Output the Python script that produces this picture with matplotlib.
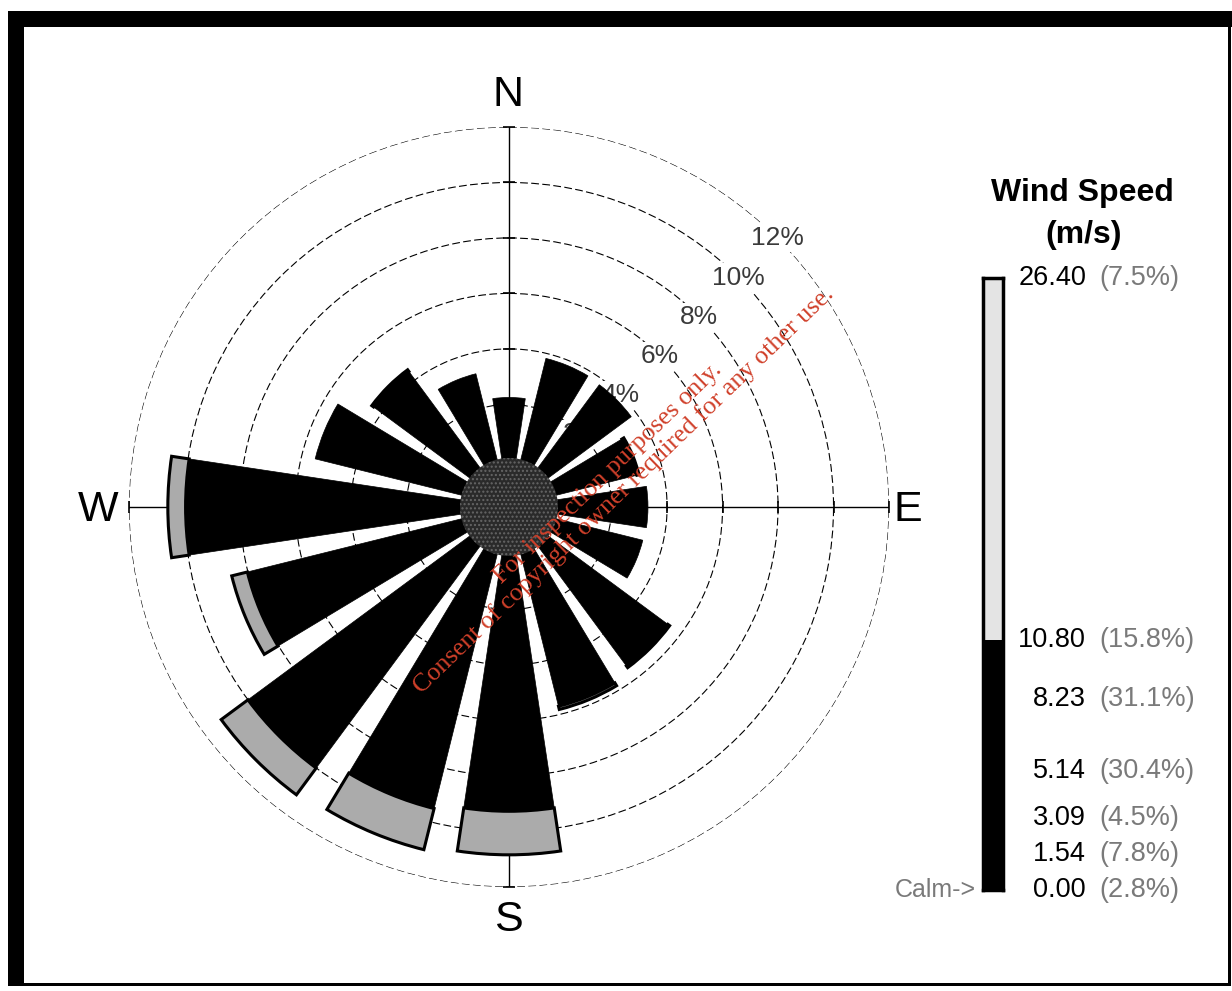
import numpy as np
import matplotlib
matplotlib.use("Agg")
import matplotlib.pyplot as plt
from matplotlib.patches import Circle, Rectangle
from matplotlib.transforms import blended_transform_factory

plt.rcParams['font.family'] = ['Liberation Sans', 'DejaVu Sans']

# wind rose data (% of time per direction)
directions = ['N', 'NNE', 'NE', 'ENE', 'E', 'ESE', 'SE', 'SSE',
              'S', 'SSW', 'SW', 'WSW', 'W', 'WNW', 'NW', 'NNW']
below_10_8 = [2.25, 3.82, 3.78, 3.05, 3.31, 3.27, 5.42, 5.70,
              9.27, 9.50, 10.0, 8.02, 9.96, 5.50, 4.37, 3.25]
above_10_8 = [0.0, 0.0, 0.0, 0.08, 0.0, 0.0, 0.08, 0.12,
              1.57, 1.53, 1.20, 0.58, 0.64, 0.0, 0.08, 0.0]
ring_levels = [2, 4, 6, 8, 10, 12]
ring_labels = ['2%', '4%', '6%', '8%', '10%', '12%']

# legend / colour scale
speed_bounds = [0.00, 1.54, 3.09, 5.14, 8.23, 10.80, 26.40]
bound_pcts = ['(2.8%)', '(7.8%)', '(4.5%)', '(30.4%)', '(31.1%)', '(15.8%)', '(7.5%)']
class_colors = ['black', 'black', 'black', 'black', 'black', '#e4e4e4']

W, H = 1232, 991
fig = plt.figure(figsize=(W / 100, H / 100), dpi=100)
fig.patch.set_facecolor('white')


def fx(x):
    return x / W


def fy(y):
    return 1 - y / H


# frame around the picture (thick top/left, thin right/bottom)
for x0, y0, x1, y1 in [(8, 11, 24, 986), (8, 11, 1232, 27),
                       (1228, 11, 1231, 986), (8, 983, 1231, 986)]:
    fig.add_artist(Rectangle((fx(x0), fy(y1)), fx(x1) - fx(x0), fy(y0) - fy(y1),
                             transform=fig.transFigure, color='black', lw=0))

# polar axes
cx, cy, R = 509, 507, 380
ax = fig.add_axes([fx(cx - R), fy(cy + R), 2 * R / W, 2 * R / H], projection='polar')
ax.set_theta_zero_location('N')
ax.set_theta_direction(-1)
ax.set_ylim(0, 12)
ax.set_rorigin(-1.7)
ax.set_axisbelow(True)
ax.spines['polar'].set_visible(False)
ax.set_facecolor('none')

ax.set_yticks(ring_levels)
ax.set_yticklabels([])
ax.set_xticks(np.deg2rad([0, 90, 180, 270]))
ax.set_xticklabels([])
ax.tick_params(length=0)
ax.yaxis.grid(True, color='black', linestyle=(0, (7, 3)), linewidth=0.8)
ax.xaxis.grid(True, color='black', linestyle='-', linewidth=1.0)

# small ticks where the rings cross the compass axes
for ang in [0, 180]:
    ax.plot(np.full(len(ring_levels), np.deg2rad(ang)), ring_levels, ls='none',
            marker='_', ms=9, mew=1.2, color='black', zorder=0.6, clip_on=False)
for ang in [90, 270]:
    ax.plot(np.full(len(ring_levels), np.deg2rad(ang)), ring_levels, ls='none',
            marker='|', ms=9, mew=1.2, color='black', zorder=0.6, clip_on=False)

# ring labels along NE, beneath the petals
for lev, lab in zip(ring_levels, ring_labels):
    ax.text(np.deg2rad(45), lev, lab, ha='center', va='center', fontsize=19,
            color='#3a3a3a', zorder=0.8,
            bbox=dict(facecolor='white', edgecolor='none', pad=1.5))

theta = np.deg2rad(np.arange(len(directions)) * 22.5)
width = np.deg2rad(22.5) * 0.76
ax.bar(theta, below_10_8, width=width, bottom=0, color='black',
       edgecolor='black', linewidth=0.5, zorder=2)
grey = np.array(above_10_8)
mask = grey > 0
ax.bar(theta[mask], grey[mask], width=width, bottom=np.array(below_10_8)[mask],
       color='#ababab', edgecolor='black', linewidth=2.2, zorder=3)

# calm disc in the middle
ax.add_artist(Circle((0.5, 0.5), 49 / (2 * R), transform=ax.transAxes,
                     facecolor='#2a2a2a', edgecolor='#666666', hatch='....',
                     linewidth=0, zorder=4, clip_on=False))

# compass letters
for lab, x, y in [('N', 508, 95), ('S', 508, 920), ('W', 98, 510), ('E', 908, 510)]:
    fig.text(fx(x), fy(y), lab, ha='center', va='center', fontsize=31, color='black')

# colour scale
cax = fig.add_axes([fx(983), fy(890), 20 / W, 612 / H])
cax.bar(0.5, np.diff(speed_bounds), bottom=speed_bounds[:-1], width=1,
        color=class_colors, linewidth=0)
cax.set_xlim(0, 1)
cax.set_ylim(speed_bounds[0], speed_bounds[-1])
cax.set_xticks([])
cax.set_yticks([])
for s in cax.spines.values():
    s.set_linewidth(2.5)

tr = blended_transform_factory(fig.transFigure, cax.transData)
for val, pct in zip(speed_bounds, bound_pcts):
    fig.text(fx(1086), val, f'{val:.2f}', transform=tr, ha='right', va='center',
             fontsize=19.5, color='black')
    fig.text(fx(1099), val, pct, transform=tr, ha='left', va='center',
             fontsize=19.5, color='#7a7a7a')
fig.text(fx(976), speed_bounds[0], 'Calm->', transform=tr, ha='right', va='center',
         fontsize=18, color='#7a7a7a')

fig.text(fx(1082), fy(193), 'Wind Speed', ha='center', va='center',
         fontsize=23, fontweight='bold')
fig.text(fx(1084), fy(235), '(m/s)', ha='center', va='center',
         fontsize=23, fontweight='bold')

# watermark
fig.text(fx(616), fy(482),
         'For inspection purposes only.\nConsent of copyright owner required for any other use.',
         ha='center', va='center', rotation=44, rotation_mode='anchor',
         fontsize=18.8, color='#d0402a', family=['Liberation Serif', 'DejaVu Serif'],
         linespacing=1.0, multialignment='center', zorder=10)

fig.savefig('out.png', dpi=100)
